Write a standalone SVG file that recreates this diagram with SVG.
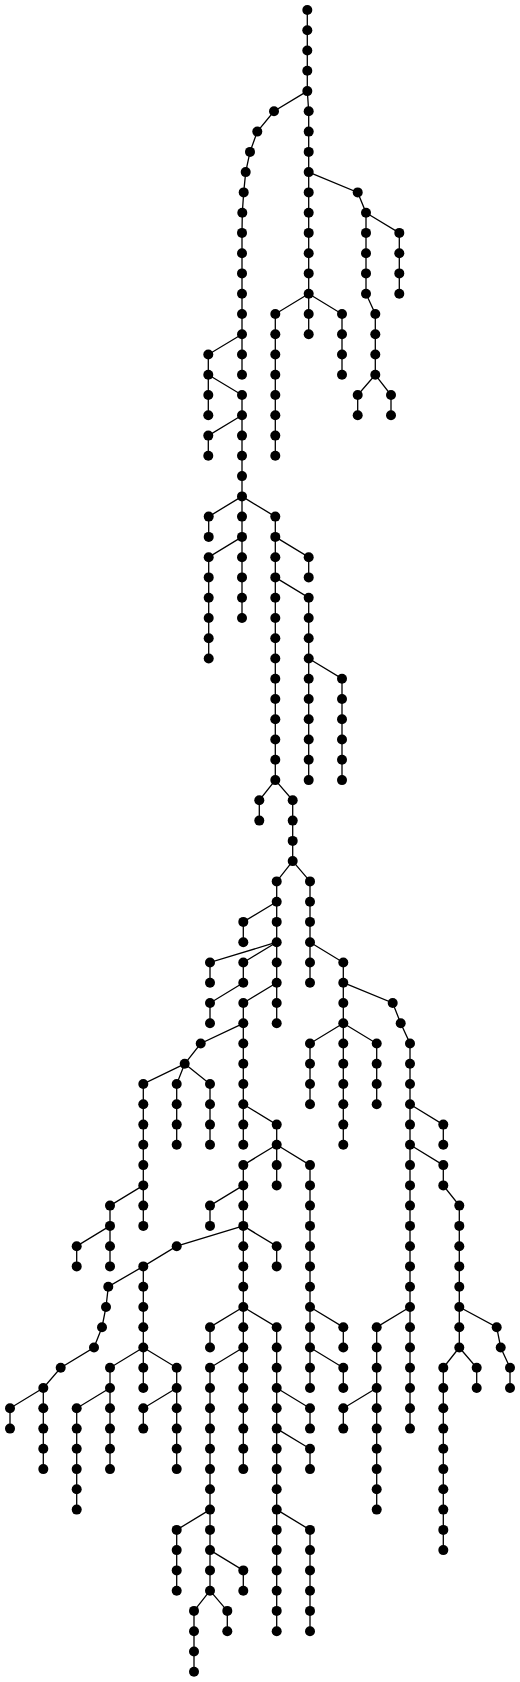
<svg xmlns="http://www.w3.org/2000/svg" width="520" height="1682" viewBox="0 0 520 1682">
<style>
.node circle{fill:#000;stroke:none}
#edges path{fill:none;stroke:#000;stroke-width:1.3}
</style>
<rect width="520" height="1682" fill="#fff"/>
<g id="edges">
<path d="M307.3 10V91.1L308.7 111.3V334.2"/>
<path d="M307.3 91.1L274 111.3L257.3 131.6L250 151.9L245.7 172.1L243.7 192.4L242.3 212.7L242 232.9V374.8"/>
<path d="M242 334.2L208.3 354.5V415.3"/>
<path d="M208.3 374.8L242 395V496.4"/>
<path d="M242 415.3L208.3 435.6V455.8"/>
<path d="M242 496.4L208.7 516.6V536.9"/>
<path d="M242 496.4V618"/>
<path d="M242 536.9L208.7 557.2V658.5"/>
<path d="M242 496.4L275.3 516.6V780.1"/>
<path d="M275.3 536.9L308.7 557.2V577.4"/>
<path d="M275.3 577.4L308.7 597.7V780.1"/>
<path d="M308.7 658.5L342 678.7V780.1"/>
<path d="M275.3 780.1L259.3 800.3V820.6"/>
<path d="M275.3 780.1L292.7 800.3V861.1"/>
<path d="M292.7 861.1L276.7 881.4V942.2"/>
<path d="M276.7 901.7L243.3 921.9V942.2"/>
<path d="M292.7 861.1L310 881.4V982.7"/>
<path d="M310 942.2L343.3 962.5V1023.3"/>
<path d="M343.3 1023.3L310 1043.5V1104.3"/>
<path d="M343.3 1023.3V1144.8"/>
<path d="M343.3 1023.3L376.7 1043.5V1104.3"/>
<path d="M343.3 982.7L392.7 1003L400.7 1023.3L410 1043.5V1428.6"/>
<path d="M410 1104.3L443.3 1124.6V1144.8"/>
<path d="M410 1144.8L443.3 1165.1V1185.4L459.3 1205.6V1347.5"/>
<path d="M459.3 1307L496.7 1327.2L500.7 1347.5L510 1367.8V1388"/>
<path d="M459.3 1347.5L476.7 1367.8V1388"/>
<path d="M459.3 1347.5L443.3 1367.8V1550.1"/>
<path d="M410 1307L376.7 1327.2V1509.6"/>
<path d="M376.7 1388L343.3 1408.3V1428.6"/>
<path d="M276.7 942.2L210 962.5V982.7"/>
<path d="M276.7 942.2L243.3 962.5V982.7"/>
<path d="M243.3 982.7L210 1003V1023.3"/>
<path d="M276.7 942.2V1023.3"/>
<path d="M276.7 982.7L243.3 1003V1144.8"/>
<path d="M243.3 1023.3L200.7 1043.5L184.7 1063.8"/>
<path d="M184.7 1063.8L143.3 1084V1225.9"/>
<path d="M184.7 1063.8L176.7 1084V1144.8"/>
<path d="M184.7 1063.8L210 1084V1144.8"/>
<path d="M143.3 1185.4L110 1205.6V1266.4"/>
<path d="M110 1225.9L76.7 1246.2V1266.4"/>
<path d="M243.3 1104.3L276.7 1124.6V1185.4"/>
<path d="M276.7 1144.8L243.3 1165.1V1469.1"/>
<path d="M276.7 1144.8L310 1165.1V1388"/>
<path d="M310 1307L343.3 1327.2V1347.5"/>
<path d="M310 1347.5L343.3 1367.8V1388"/>
<path d="M243.3 1185.4L210 1205.6V1225.9"/>
<path d="M243.3 1225.9L176.7 1246.2L143.3 1266.4V1347.5"/>
<path d="M143.3 1266.4L108.3 1286.7L106 1307L102 1327.2L94 1347.5L60.7 1367.8L43.3 1388V1469.1"/>
<path d="M43.3 1388L10 1408.3V1428.6"/>
<path d="M143.3 1347.5L110 1367.8V1469.1"/>
<path d="M110 1388L76.7 1408.3V1509.6"/>
<path d="M143.3 1347.5V1388"/>
<path d="M143.3 1347.5L176.7 1367.8V1469.1"/>
<path d="M176.7 1388L143.3 1408.3V1428.6"/>
<path d="M243.3 1225.9L276.7 1246.2V1266.4"/>
<path d="M243.3 1307L210 1327.2V1347.5"/>
<path d="M243.3 1307L276.7 1327.2V1631.2"/>
<path d="M276.7 1388L310 1408.3V1428.6"/>
<path d="M276.7 1428.6L310 1448.8V1469.1"/>
<path d="M276.7 1509.6L310 1529.9V1631.2"/>
<path d="M243.3 1347.5L210 1367.8V1590.7"/>
<path d="M210 1509.6L176.7 1529.9V1590.7"/>
<path d="M210 1550.1L243.3 1570.4V1590.7"/>
<path d="M210 1590.7L194 1610.9V1671.7"/>
<path d="M210 1590.7L227.3 1610.9V1631.2"/>
<path d="M308.7 172.1L357.7 192.4L366 212.7V293.7L375.3 314V374.8"/>
<path d="M366 212.7L399.3 232.9V293.7"/>
<path d="M375.3 374.8L357.7 395V415.3"/>
<path d="M375.3 374.8L391 395V415.3"/>
<path d="M308.7 293.7L275.3 314V455.8"/>
<path d="M308.7 293.7L342 314V374.8"/>
</g>
<g id="nodes">
<g id="n1" class="node"><circle cx="307.3" cy="10" r="5"/></g>
<g id="n2" class="node"><circle cx="307.3" cy="30.3" r="5"/></g>
<g id="n3" class="node"><circle cx="307.3" cy="50.5" r="5"/></g>
<g id="n4" class="node"><circle cx="307.3" cy="70.8" r="5"/></g>
<g id="n5" class="node"><circle cx="307.3" cy="91.1" r="5"/></g>
<g id="n6" class="node"><circle cx="308.7" cy="111.3" r="5"/></g>
<g id="n7" class="node"><circle cx="308.7" cy="131.6" r="5"/></g>
<g id="n8" class="node"><circle cx="308.7" cy="151.9" r="5"/></g>
<g id="n9" class="node"><circle cx="308.7" cy="172.1" r="5"/></g>
<g id="n10" class="node"><circle cx="308.7" cy="192.4" r="5"/></g>
<g id="n11" class="node"><circle cx="308.7" cy="212.7" r="5"/></g>
<g id="n12" class="node"><circle cx="308.7" cy="232.9" r="5"/></g>
<g id="n13" class="node"><circle cx="308.7" cy="253.2" r="5"/></g>
<g id="n14" class="node"><circle cx="308.7" cy="273.4" r="5"/></g>
<g id="n15" class="node"><circle cx="308.7" cy="293.7" r="5"/></g>
<g id="n16" class="node"><circle cx="308.7" cy="314" r="5"/></g>
<g id="n17" class="node"><circle cx="308.7" cy="334.2" r="5"/></g>
<g id="n18" class="node"><circle cx="274" cy="111.3" r="5"/></g>
<g id="n19" class="node"><circle cx="257.3" cy="131.6" r="5"/></g>
<g id="n20" class="node"><circle cx="250" cy="151.9" r="5"/></g>
<g id="n21" class="node"><circle cx="245.7" cy="172.1" r="5"/></g>
<g id="n22" class="node"><circle cx="243.7" cy="192.4" r="5"/></g>
<g id="n23" class="node"><circle cx="242.3" cy="212.7" r="5"/></g>
<g id="n24" class="node"><circle cx="242" cy="232.9" r="5"/></g>
<g id="n25" class="node"><circle cx="242" cy="253.2" r="5"/></g>
<g id="n26" class="node"><circle cx="242" cy="273.4" r="5"/></g>
<g id="n27" class="node"><circle cx="242" cy="293.7" r="5"/></g>
<g id="n28" class="node"><circle cx="242" cy="314" r="5"/></g>
<g id="n29" class="node"><circle cx="242" cy="334.2" r="5"/></g>
<g id="n30" class="node"><circle cx="242" cy="354.5" r="5"/></g>
<g id="n31" class="node"><circle cx="242" cy="374.8" r="5"/></g>
<g id="n32" class="node"><circle cx="208.3" cy="354.5" r="5"/></g>
<g id="n33" class="node"><circle cx="208.3" cy="374.8" r="5"/></g>
<g id="n34" class="node"><circle cx="208.3" cy="395" r="5"/></g>
<g id="n35" class="node"><circle cx="208.3" cy="415.3" r="5"/></g>
<g id="n36" class="node"><circle cx="242" cy="395" r="5"/></g>
<g id="n37" class="node"><circle cx="242" cy="415.3" r="5"/></g>
<g id="n38" class="node"><circle cx="242" cy="435.6" r="5"/></g>
<g id="n39" class="node"><circle cx="242" cy="455.8" r="5"/></g>
<g id="n40" class="node"><circle cx="242" cy="476.1" r="5"/></g>
<g id="n41" class="node"><circle cx="242" cy="496.4" r="5"/></g>
<g id="n42" class="node"><circle cx="208.3" cy="435.6" r="5"/></g>
<g id="n43" class="node"><circle cx="208.3" cy="455.8" r="5"/></g>
<g id="n44" class="node"><circle cx="208.7" cy="516.6" r="5"/></g>
<g id="n45" class="node"><circle cx="208.7" cy="536.9" r="5"/></g>
<g id="n46" class="node"><circle cx="242" cy="516.6" r="5"/></g>
<g id="n47" class="node"><circle cx="242" cy="536.9" r="5"/></g>
<g id="n48" class="node"><circle cx="242" cy="557.2" r="5"/></g>
<g id="n49" class="node"><circle cx="242" cy="577.4" r="5"/></g>
<g id="n50" class="node"><circle cx="242" cy="597.7" r="5"/></g>
<g id="n51" class="node"><circle cx="242" cy="618" r="5"/></g>
<g id="n52" class="node"><circle cx="208.7" cy="557.2" r="5"/></g>
<g id="n53" class="node"><circle cx="208.7" cy="577.4" r="5"/></g>
<g id="n54" class="node"><circle cx="208.7" cy="597.7" r="5"/></g>
<g id="n55" class="node"><circle cx="208.7" cy="618" r="5"/></g>
<g id="n56" class="node"><circle cx="208.7" cy="638.2" r="5"/></g>
<g id="n57" class="node"><circle cx="208.7" cy="658.5" r="5"/></g>
<g id="n58" class="node"><circle cx="275.3" cy="516.6" r="5"/></g>
<g id="n59" class="node"><circle cx="275.3" cy="536.9" r="5"/></g>
<g id="n60" class="node"><circle cx="275.3" cy="557.2" r="5"/></g>
<g id="n61" class="node"><circle cx="275.3" cy="577.4" r="5"/></g>
<g id="n62" class="node"><circle cx="275.3" cy="597.7" r="5"/></g>
<g id="n63" class="node"><circle cx="275.3" cy="618" r="5"/></g>
<g id="n64" class="node"><circle cx="275.3" cy="638.2" r="5"/></g>
<g id="n65" class="node"><circle cx="275.3" cy="658.5" r="5"/></g>
<g id="n66" class="node"><circle cx="275.3" cy="678.7" r="5"/></g>
<g id="n67" class="node"><circle cx="275.3" cy="699" r="5"/></g>
<g id="n68" class="node"><circle cx="275.3" cy="719.3" r="5"/></g>
<g id="n69" class="node"><circle cx="275.3" cy="739.5" r="5"/></g>
<g id="n70" class="node"><circle cx="275.3" cy="759.8" r="5"/></g>
<g id="n71" class="node"><circle cx="275.3" cy="780.1" r="5"/></g>
<g id="n72" class="node"><circle cx="308.7" cy="557.2" r="5"/></g>
<g id="n73" class="node"><circle cx="308.7" cy="577.4" r="5"/></g>
<g id="n74" class="node"><circle cx="308.7" cy="597.7" r="5"/></g>
<g id="n75" class="node"><circle cx="308.7" cy="618" r="5"/></g>
<g id="n76" class="node"><circle cx="308.7" cy="638.2" r="5"/></g>
<g id="n77" class="node"><circle cx="308.7" cy="658.5" r="5"/></g>
<g id="n78" class="node"><circle cx="308.7" cy="678.7" r="5"/></g>
<g id="n79" class="node"><circle cx="308.7" cy="699" r="5"/></g>
<g id="n80" class="node"><circle cx="308.7" cy="719.3" r="5"/></g>
<g id="n81" class="node"><circle cx="308.7" cy="739.5" r="5"/></g>
<g id="n82" class="node"><circle cx="308.7" cy="759.8" r="5"/></g>
<g id="n83" class="node"><circle cx="308.7" cy="780.1" r="5"/></g>
<g id="n84" class="node"><circle cx="342" cy="678.7" r="5"/></g>
<g id="n85" class="node"><circle cx="342" cy="699" r="5"/></g>
<g id="n86" class="node"><circle cx="342" cy="719.3" r="5"/></g>
<g id="n87" class="node"><circle cx="342" cy="739.5" r="5"/></g>
<g id="n88" class="node"><circle cx="342" cy="759.8" r="5"/></g>
<g id="n89" class="node"><circle cx="342" cy="780.1" r="5"/></g>
<g id="n90" class="node"><circle cx="259.3" cy="800.3" r="5"/></g>
<g id="n91" class="node"><circle cx="259.3" cy="820.6" r="5"/></g>
<g id="n92" class="node"><circle cx="292.7" cy="800.3" r="5"/></g>
<g id="n93" class="node"><circle cx="292.7" cy="820.6" r="5"/></g>
<g id="n94" class="node"><circle cx="292.7" cy="840.9" r="5"/></g>
<g id="n95" class="node"><circle cx="292.7" cy="861.1" r="5"/></g>
<g id="n96" class="node"><circle cx="276.7" cy="881.4" r="5"/></g>
<g id="n97" class="node"><circle cx="276.7" cy="901.7" r="5"/></g>
<g id="n98" class="node"><circle cx="276.7" cy="921.9" r="5"/></g>
<g id="n99" class="node"><circle cx="276.7" cy="942.2" r="5"/></g>
<g id="n100" class="node"><circle cx="243.3" cy="921.9" r="5"/></g>
<g id="n101" class="node"><circle cx="243.3" cy="942.2" r="5"/></g>
<g id="n102" class="node"><circle cx="310" cy="881.4" r="5"/></g>
<g id="n103" class="node"><circle cx="310" cy="901.7" r="5"/></g>
<g id="n104" class="node"><circle cx="310" cy="921.9" r="5"/></g>
<g id="n105" class="node"><circle cx="310" cy="942.2" r="5"/></g>
<g id="n106" class="node"><circle cx="310" cy="962.5" r="5"/></g>
<g id="n107" class="node"><circle cx="310" cy="982.7" r="5"/></g>
<g id="n108" class="node"><circle cx="343.3" cy="962.5" r="5"/></g>
<g id="n109" class="node"><circle cx="343.3" cy="982.7" r="5"/></g>
<g id="n110" class="node"><circle cx="343.3" cy="1003" r="5"/></g>
<g id="n111" class="node"><circle cx="343.3" cy="1023.3" r="5"/></g>
<g id="n112" class="node"><circle cx="310" cy="1043.5" r="5"/></g>
<g id="n113" class="node"><circle cx="310" cy="1063.8" r="5"/></g>
<g id="n114" class="node"><circle cx="310" cy="1084" r="5"/></g>
<g id="n115" class="node"><circle cx="310" cy="1104.3" r="5"/></g>
<g id="n116" class="node"><circle cx="343.3" cy="1043.5" r="5"/></g>
<g id="n117" class="node"><circle cx="343.3" cy="1063.8" r="5"/></g>
<g id="n118" class="node"><circle cx="343.3" cy="1084" r="5"/></g>
<g id="n119" class="node"><circle cx="343.3" cy="1104.3" r="5"/></g>
<g id="n120" class="node"><circle cx="343.3" cy="1124.6" r="5"/></g>
<g id="n121" class="node"><circle cx="343.3" cy="1144.8" r="5"/></g>
<g id="n122" class="node"><circle cx="376.7" cy="1043.5" r="5"/></g>
<g id="n123" class="node"><circle cx="376.7" cy="1063.8" r="5"/></g>
<g id="n124" class="node"><circle cx="376.7" cy="1084" r="5"/></g>
<g id="n125" class="node"><circle cx="376.7" cy="1104.3" r="5"/></g>
<g id="n126" class="node"><circle cx="392.7" cy="1003" r="5"/></g>
<g id="n127" class="node"><circle cx="400.7" cy="1023.3" r="5"/></g>
<g id="n128" class="node"><circle cx="410" cy="1043.5" r="5"/></g>
<g id="n129" class="node"><circle cx="410" cy="1063.8" r="5"/></g>
<g id="n130" class="node"><circle cx="410" cy="1084" r="5"/></g>
<g id="n131" class="node"><circle cx="410" cy="1104.3" r="5"/></g>
<g id="n132" class="node"><circle cx="410" cy="1124.6" r="5"/></g>
<g id="n133" class="node"><circle cx="410" cy="1144.8" r="5"/></g>
<g id="n134" class="node"><circle cx="410" cy="1165.1" r="5"/></g>
<g id="n135" class="node"><circle cx="410" cy="1185.4" r="5"/></g>
<g id="n136" class="node"><circle cx="410" cy="1205.6" r="5"/></g>
<g id="n137" class="node"><circle cx="410" cy="1225.9" r="5"/></g>
<g id="n138" class="node"><circle cx="410" cy="1246.2" r="5"/></g>
<g id="n139" class="node"><circle cx="410" cy="1266.4" r="5"/></g>
<g id="n140" class="node"><circle cx="410" cy="1286.7" r="5"/></g>
<g id="n141" class="node"><circle cx="410" cy="1307" r="5"/></g>
<g id="n142" class="node"><circle cx="410" cy="1327.2" r="5"/></g>
<g id="n143" class="node"><circle cx="410" cy="1347.5" r="5"/></g>
<g id="n144" class="node"><circle cx="410" cy="1367.8" r="5"/></g>
<g id="n145" class="node"><circle cx="410" cy="1388" r="5"/></g>
<g id="n146" class="node"><circle cx="410" cy="1408.3" r="5"/></g>
<g id="n147" class="node"><circle cx="410" cy="1428.6" r="5"/></g>
<g id="n148" class="node"><circle cx="443.3" cy="1124.6" r="5"/></g>
<g id="n149" class="node"><circle cx="443.3" cy="1144.8" r="5"/></g>
<g id="n150" class="node"><circle cx="443.3" cy="1165.1" r="5"/></g>
<g id="n151" class="node"><circle cx="443.3" cy="1185.4" r="5"/></g>
<g id="n152" class="node"><circle cx="459.3" cy="1205.6" r="5"/></g>
<g id="n153" class="node"><circle cx="459.3" cy="1225.9" r="5"/></g>
<g id="n154" class="node"><circle cx="459.3" cy="1246.2" r="5"/></g>
<g id="n155" class="node"><circle cx="459.3" cy="1266.4" r="5"/></g>
<g id="n156" class="node"><circle cx="459.3" cy="1286.7" r="5"/></g>
<g id="n157" class="node"><circle cx="459.3" cy="1307" r="5"/></g>
<g id="n158" class="node"><circle cx="459.3" cy="1327.2" r="5"/></g>
<g id="n159" class="node"><circle cx="459.3" cy="1347.5" r="5"/></g>
<g id="n160" class="node"><circle cx="496.7" cy="1327.2" r="5"/></g>
<g id="n161" class="node"><circle cx="500.7" cy="1347.5" r="5"/></g>
<g id="n162" class="node"><circle cx="510" cy="1367.8" r="5"/></g>
<g id="n163" class="node"><circle cx="510" cy="1388" r="5"/></g>
<g id="n164" class="node"><circle cx="476.7" cy="1367.8" r="5"/></g>
<g id="n165" class="node"><circle cx="476.7" cy="1388" r="5"/></g>
<g id="n166" class="node"><circle cx="443.3" cy="1367.8" r="5"/></g>
<g id="n167" class="node"><circle cx="443.3" cy="1388" r="5"/></g>
<g id="n168" class="node"><circle cx="443.3" cy="1408.3" r="5"/></g>
<g id="n169" class="node"><circle cx="443.3" cy="1428.6" r="5"/></g>
<g id="n170" class="node"><circle cx="443.3" cy="1448.8" r="5"/></g>
<g id="n171" class="node"><circle cx="443.3" cy="1469.1" r="5"/></g>
<g id="n172" class="node"><circle cx="443.3" cy="1489.3" r="5"/></g>
<g id="n173" class="node"><circle cx="443.3" cy="1509.6" r="5"/></g>
<g id="n174" class="node"><circle cx="443.3" cy="1529.9" r="5"/></g>
<g id="n175" class="node"><circle cx="443.3" cy="1550.1" r="5"/></g>
<g id="n176" class="node"><circle cx="376.7" cy="1327.2" r="5"/></g>
<g id="n177" class="node"><circle cx="376.7" cy="1347.5" r="5"/></g>
<g id="n178" class="node"><circle cx="376.7" cy="1367.8" r="5"/></g>
<g id="n179" class="node"><circle cx="376.7" cy="1388" r="5"/></g>
<g id="n180" class="node"><circle cx="376.7" cy="1408.3" r="5"/></g>
<g id="n181" class="node"><circle cx="376.7" cy="1428.6" r="5"/></g>
<g id="n182" class="node"><circle cx="376.7" cy="1448.8" r="5"/></g>
<g id="n183" class="node"><circle cx="376.7" cy="1469.1" r="5"/></g>
<g id="n184" class="node"><circle cx="376.7" cy="1489.3" r="5"/></g>
<g id="n185" class="node"><circle cx="376.7" cy="1509.6" r="5"/></g>
<g id="n186" class="node"><circle cx="343.3" cy="1408.3" r="5"/></g>
<g id="n187" class="node"><circle cx="343.3" cy="1428.6" r="5"/></g>
<g id="n188" class="node"><circle cx="210" cy="962.5" r="5"/></g>
<g id="n189" class="node"><circle cx="210" cy="982.7" r="5"/></g>
<g id="n190" class="node"><circle cx="243.3" cy="962.5" r="5"/></g>
<g id="n191" class="node"><circle cx="243.3" cy="982.7" r="5"/></g>
<g id="n192" class="node"><circle cx="210" cy="1003" r="5"/></g>
<g id="n193" class="node"><circle cx="210" cy="1023.3" r="5"/></g>
<g id="n194" class="node"><circle cx="276.7" cy="962.5" r="5"/></g>
<g id="n195" class="node"><circle cx="276.7" cy="982.7" r="5"/></g>
<g id="n196" class="node"><circle cx="276.7" cy="1003" r="5"/></g>
<g id="n197" class="node"><circle cx="276.7" cy="1023.3" r="5"/></g>
<g id="n198" class="node"><circle cx="243.3" cy="1003" r="5"/></g>
<g id="n199" class="node"><circle cx="243.3" cy="1023.3" r="5"/></g>
<g id="n200" class="node"><circle cx="243.3" cy="1043.5" r="5"/></g>
<g id="n201" class="node"><circle cx="243.3" cy="1063.8" r="5"/></g>
<g id="n202" class="node"><circle cx="243.3" cy="1084" r="5"/></g>
<g id="n203" class="node"><circle cx="243.3" cy="1104.3" r="5"/></g>
<g id="n204" class="node"><circle cx="243.3" cy="1124.6" r="5"/></g>
<g id="n205" class="node"><circle cx="243.3" cy="1144.8" r="5"/></g>
<g id="n206" class="node"><circle cx="200.7" cy="1043.5" r="5"/></g>
<g id="n207" class="node"><circle cx="184.7" cy="1063.8" r="5"/></g>
<g id="n208" class="node"><circle cx="143.3" cy="1084" r="5"/></g>
<g id="n209" class="node"><circle cx="143.3" cy="1104.3" r="5"/></g>
<g id="n210" class="node"><circle cx="143.3" cy="1124.6" r="5"/></g>
<g id="n211" class="node"><circle cx="143.3" cy="1144.8" r="5"/></g>
<g id="n212" class="node"><circle cx="143.3" cy="1165.1" r="5"/></g>
<g id="n213" class="node"><circle cx="143.3" cy="1185.4" r="5"/></g>
<g id="n214" class="node"><circle cx="143.3" cy="1205.6" r="5"/></g>
<g id="n215" class="node"><circle cx="143.3" cy="1225.9" r="5"/></g>
<g id="n216" class="node"><circle cx="176.7" cy="1084" r="5"/></g>
<g id="n217" class="node"><circle cx="176.7" cy="1104.3" r="5"/></g>
<g id="n218" class="node"><circle cx="176.7" cy="1124.6" r="5"/></g>
<g id="n219" class="node"><circle cx="176.7" cy="1144.8" r="5"/></g>
<g id="n220" class="node"><circle cx="210" cy="1084" r="5"/></g>
<g id="n221" class="node"><circle cx="210" cy="1104.3" r="5"/></g>
<g id="n222" class="node"><circle cx="210" cy="1124.6" r="5"/></g>
<g id="n223" class="node"><circle cx="210" cy="1144.8" r="5"/></g>
<g id="n224" class="node"><circle cx="110" cy="1205.6" r="5"/></g>
<g id="n225" class="node"><circle cx="110" cy="1225.9" r="5"/></g>
<g id="n226" class="node"><circle cx="110" cy="1246.2" r="5"/></g>
<g id="n227" class="node"><circle cx="110" cy="1266.4" r="5"/></g>
<g id="n228" class="node"><circle cx="76.7" cy="1246.2" r="5"/></g>
<g id="n229" class="node"><circle cx="76.7" cy="1266.4" r="5"/></g>
<g id="n230" class="node"><circle cx="276.7" cy="1124.6" r="5"/></g>
<g id="n231" class="node"><circle cx="276.7" cy="1144.8" r="5"/></g>
<g id="n232" class="node"><circle cx="243.3" cy="1165.1" r="5"/></g>
<g id="n233" class="node"><circle cx="243.3" cy="1185.4" r="5"/></g>
<g id="n234" class="node"><circle cx="243.3" cy="1205.6" r="5"/></g>
<g id="n235" class="node"><circle cx="243.3" cy="1225.9" r="5"/></g>
<g id="n236" class="node"><circle cx="243.3" cy="1246.2" r="5"/></g>
<g id="n237" class="node"><circle cx="243.3" cy="1266.4" r="5"/></g>
<g id="n238" class="node"><circle cx="243.3" cy="1286.7" r="5"/></g>
<g id="n239" class="node"><circle cx="243.3" cy="1307" r="5"/></g>
<g id="n240" class="node"><circle cx="243.3" cy="1327.2" r="5"/></g>
<g id="n241" class="node"><circle cx="243.3" cy="1347.5" r="5"/></g>
<g id="n242" class="node"><circle cx="243.3" cy="1367.8" r="5"/></g>
<g id="n243" class="node"><circle cx="243.3" cy="1388" r="5"/></g>
<g id="n244" class="node"><circle cx="243.3" cy="1408.3" r="5"/></g>
<g id="n245" class="node"><circle cx="243.3" cy="1428.6" r="5"/></g>
<g id="n246" class="node"><circle cx="243.3" cy="1448.8" r="5"/></g>
<g id="n247" class="node"><circle cx="243.3" cy="1469.1" r="5"/></g>
<g id="n248" class="node"><circle cx="276.7" cy="1165.1" r="5"/></g>
<g id="n249" class="node"><circle cx="276.7" cy="1185.4" r="5"/></g>
<g id="n250" class="node"><circle cx="310" cy="1165.1" r="5"/></g>
<g id="n251" class="node"><circle cx="310" cy="1185.4" r="5"/></g>
<g id="n252" class="node"><circle cx="310" cy="1205.6" r="5"/></g>
<g id="n253" class="node"><circle cx="310" cy="1225.9" r="5"/></g>
<g id="n254" class="node"><circle cx="310" cy="1246.2" r="5"/></g>
<g id="n255" class="node"><circle cx="310" cy="1266.4" r="5"/></g>
<g id="n256" class="node"><circle cx="310" cy="1286.7" r="5"/></g>
<g id="n257" class="node"><circle cx="310" cy="1307" r="5"/></g>
<g id="n258" class="node"><circle cx="310" cy="1327.2" r="5"/></g>
<g id="n259" class="node"><circle cx="310" cy="1347.5" r="5"/></g>
<g id="n260" class="node"><circle cx="310" cy="1367.8" r="5"/></g>
<g id="n261" class="node"><circle cx="310" cy="1388" r="5"/></g>
<g id="n262" class="node"><circle cx="343.3" cy="1327.2" r="5"/></g>
<g id="n263" class="node"><circle cx="343.3" cy="1347.5" r="5"/></g>
<g id="n264" class="node"><circle cx="343.3" cy="1367.8" r="5"/></g>
<g id="n265" class="node"><circle cx="343.3" cy="1388" r="5"/></g>
<g id="n266" class="node"><circle cx="210" cy="1205.6" r="5"/></g>
<g id="n267" class="node"><circle cx="210" cy="1225.9" r="5"/></g>
<g id="n268" class="node"><circle cx="176.7" cy="1246.2" r="5"/></g>
<g id="n269" class="node"><circle cx="143.3" cy="1266.4" r="5"/></g>
<g id="n270" class="node"><circle cx="143.3" cy="1286.7" r="5"/></g>
<g id="n271" class="node"><circle cx="143.3" cy="1307" r="5"/></g>
<g id="n272" class="node"><circle cx="143.3" cy="1327.2" r="5"/></g>
<g id="n273" class="node"><circle cx="143.3" cy="1347.5" r="5"/></g>
<g id="n274" class="node"><circle cx="108.3" cy="1286.7" r="5"/></g>
<g id="n275" class="node"><circle cx="106" cy="1307" r="5"/></g>
<g id="n276" class="node"><circle cx="102" cy="1327.2" r="5"/></g>
<g id="n277" class="node"><circle cx="94" cy="1347.5" r="5"/></g>
<g id="n278" class="node"><circle cx="60.7" cy="1367.8" r="5"/></g>
<g id="n279" class="node"><circle cx="43.3" cy="1388" r="5"/></g>
<g id="n280" class="node"><circle cx="43.3" cy="1408.3" r="5"/></g>
<g id="n281" class="node"><circle cx="43.3" cy="1428.6" r="5"/></g>
<g id="n282" class="node"><circle cx="43.3" cy="1448.8" r="5"/></g>
<g id="n283" class="node"><circle cx="43.3" cy="1469.1" r="5"/></g>
<g id="n284" class="node"><circle cx="10" cy="1408.3" r="5"/></g>
<g id="n285" class="node"><circle cx="10" cy="1428.6" r="5"/></g>
<g id="n286" class="node"><circle cx="110" cy="1367.8" r="5"/></g>
<g id="n287" class="node"><circle cx="110" cy="1388" r="5"/></g>
<g id="n288" class="node"><circle cx="110" cy="1408.3" r="5"/></g>
<g id="n289" class="node"><circle cx="110" cy="1428.6" r="5"/></g>
<g id="n290" class="node"><circle cx="110" cy="1448.8" r="5"/></g>
<g id="n291" class="node"><circle cx="110" cy="1469.1" r="5"/></g>
<g id="n292" class="node"><circle cx="76.7" cy="1408.3" r="5"/></g>
<g id="n293" class="node"><circle cx="76.7" cy="1428.6" r="5"/></g>
<g id="n294" class="node"><circle cx="76.7" cy="1448.8" r="5"/></g>
<g id="n295" class="node"><circle cx="76.7" cy="1469.1" r="5"/></g>
<g id="n296" class="node"><circle cx="76.7" cy="1489.3" r="5"/></g>
<g id="n297" class="node"><circle cx="76.7" cy="1509.6" r="5"/></g>
<g id="n298" class="node"><circle cx="143.3" cy="1367.8" r="5"/></g>
<g id="n299" class="node"><circle cx="143.3" cy="1388" r="5"/></g>
<g id="n300" class="node"><circle cx="176.7" cy="1367.8" r="5"/></g>
<g id="n301" class="node"><circle cx="176.7" cy="1388" r="5"/></g>
<g id="n302" class="node"><circle cx="176.7" cy="1408.3" r="5"/></g>
<g id="n303" class="node"><circle cx="176.7" cy="1428.6" r="5"/></g>
<g id="n304" class="node"><circle cx="176.7" cy="1448.8" r="5"/></g>
<g id="n305" class="node"><circle cx="176.7" cy="1469.1" r="5"/></g>
<g id="n306" class="node"><circle cx="143.3" cy="1408.3" r="5"/></g>
<g id="n307" class="node"><circle cx="143.3" cy="1428.6" r="5"/></g>
<g id="n308" class="node"><circle cx="276.7" cy="1246.2" r="5"/></g>
<g id="n309" class="node"><circle cx="276.7" cy="1266.4" r="5"/></g>
<g id="n310" class="node"><circle cx="210" cy="1327.2" r="5"/></g>
<g id="n311" class="node"><circle cx="210" cy="1347.5" r="5"/></g>
<g id="n312" class="node"><circle cx="276.7" cy="1327.2" r="5"/></g>
<g id="n313" class="node"><circle cx="276.7" cy="1347.5" r="5"/></g>
<g id="n314" class="node"><circle cx="276.7" cy="1367.8" r="5"/></g>
<g id="n315" class="node"><circle cx="276.7" cy="1388" r="5"/></g>
<g id="n316" class="node"><circle cx="276.7" cy="1408.3" r="5"/></g>
<g id="n317" class="node"><circle cx="276.7" cy="1428.6" r="5"/></g>
<g id="n318" class="node"><circle cx="276.7" cy="1448.8" r="5"/></g>
<g id="n319" class="node"><circle cx="276.7" cy="1469.1" r="5"/></g>
<g id="n320" class="node"><circle cx="276.7" cy="1489.3" r="5"/></g>
<g id="n321" class="node"><circle cx="276.7" cy="1509.6" r="5"/></g>
<g id="n322" class="node"><circle cx="276.7" cy="1529.9" r="5"/></g>
<g id="n323" class="node"><circle cx="276.7" cy="1550.1" r="5"/></g>
<g id="n324" class="node"><circle cx="276.7" cy="1570.4" r="5"/></g>
<g id="n325" class="node"><circle cx="276.7" cy="1590.7" r="5"/></g>
<g id="n326" class="node"><circle cx="276.7" cy="1610.9" r="5"/></g>
<g id="n327" class="node"><circle cx="276.7" cy="1631.2" r="5"/></g>
<g id="n328" class="node"><circle cx="310" cy="1408.3" r="5"/></g>
<g id="n329" class="node"><circle cx="310" cy="1428.6" r="5"/></g>
<g id="n330" class="node"><circle cx="310" cy="1448.8" r="5"/></g>
<g id="n331" class="node"><circle cx="310" cy="1469.1" r="5"/></g>
<g id="n332" class="node"><circle cx="310" cy="1529.9" r="5"/></g>
<g id="n333" class="node"><circle cx="310" cy="1550.1" r="5"/></g>
<g id="n334" class="node"><circle cx="310" cy="1570.4" r="5"/></g>
<g id="n335" class="node"><circle cx="310" cy="1590.7" r="5"/></g>
<g id="n336" class="node"><circle cx="310" cy="1610.9" r="5"/></g>
<g id="n337" class="node"><circle cx="310" cy="1631.2" r="5"/></g>
<g id="n338" class="node"><circle cx="210" cy="1367.8" r="5"/></g>
<g id="n339" class="node"><circle cx="210" cy="1388" r="5"/></g>
<g id="n340" class="node"><circle cx="210" cy="1408.3" r="5"/></g>
<g id="n341" class="node"><circle cx="210" cy="1428.6" r="5"/></g>
<g id="n342" class="node"><circle cx="210" cy="1448.8" r="5"/></g>
<g id="n343" class="node"><circle cx="210" cy="1469.1" r="5"/></g>
<g id="n344" class="node"><circle cx="210" cy="1489.3" r="5"/></g>
<g id="n345" class="node"><circle cx="210" cy="1509.6" r="5"/></g>
<g id="n346" class="node"><circle cx="210" cy="1529.9" r="5"/></g>
<g id="n347" class="node"><circle cx="210" cy="1550.1" r="5"/></g>
<g id="n348" class="node"><circle cx="210" cy="1570.4" r="5"/></g>
<g id="n349" class="node"><circle cx="210" cy="1590.7" r="5"/></g>
<g id="n350" class="node"><circle cx="176.7" cy="1529.9" r="5"/></g>
<g id="n351" class="node"><circle cx="176.7" cy="1550.1" r="5"/></g>
<g id="n352" class="node"><circle cx="176.7" cy="1570.4" r="5"/></g>
<g id="n353" class="node"><circle cx="176.7" cy="1590.7" r="5"/></g>
<g id="n354" class="node"><circle cx="243.3" cy="1570.4" r="5"/></g>
<g id="n355" class="node"><circle cx="243.3" cy="1590.7" r="5"/></g>
<g id="n356" class="node"><circle cx="194" cy="1610.9" r="5"/></g>
<g id="n357" class="node"><circle cx="194" cy="1631.2" r="5"/></g>
<g id="n358" class="node"><circle cx="194" cy="1651.5" r="5"/></g>
<g id="n359" class="node"><circle cx="194" cy="1671.7" r="5"/></g>
<g id="n360" class="node"><circle cx="227.3" cy="1610.9" r="5"/></g>
<g id="n361" class="node"><circle cx="227.3" cy="1631.2" r="5"/></g>
<g id="n362" class="node"><circle cx="357.7" cy="192.4" r="5"/></g>
<g id="n363" class="node"><circle cx="366" cy="212.7" r="5"/></g>
<g id="n364" class="node"><circle cx="366" cy="232.9" r="5"/></g>
<g id="n365" class="node"><circle cx="366" cy="253.2" r="5"/></g>
<g id="n366" class="node"><circle cx="366" cy="273.4" r="5"/></g>
<g id="n367" class="node"><circle cx="366" cy="293.7" r="5"/></g>
<g id="n368" class="node"><circle cx="375.3" cy="314" r="5"/></g>
<g id="n369" class="node"><circle cx="375.3" cy="334.2" r="5"/></g>
<g id="n370" class="node"><circle cx="375.3" cy="354.5" r="5"/></g>
<g id="n371" class="node"><circle cx="375.3" cy="374.8" r="5"/></g>
<g id="n372" class="node"><circle cx="399.3" cy="232.9" r="5"/></g>
<g id="n373" class="node"><circle cx="399.3" cy="253.2" r="5"/></g>
<g id="n374" class="node"><circle cx="399.3" cy="273.4" r="5"/></g>
<g id="n375" class="node"><circle cx="399.3" cy="293.7" r="5"/></g>
<g id="n376" class="node"><circle cx="357.7" cy="395" r="5"/></g>
<g id="n377" class="node"><circle cx="357.7" cy="415.3" r="5"/></g>
<g id="n378" class="node"><circle cx="391" cy="395" r="5"/></g>
<g id="n379" class="node"><circle cx="391" cy="415.3" r="5"/></g>
<g id="n380" class="node"><circle cx="275.3" cy="314" r="5"/></g>
<g id="n381" class="node"><circle cx="275.3" cy="334.2" r="5"/></g>
<g id="n382" class="node"><circle cx="275.3" cy="354.5" r="5"/></g>
<g id="n383" class="node"><circle cx="275.3" cy="374.8" r="5"/></g>
<g id="n384" class="node"><circle cx="275.3" cy="395" r="5"/></g>
<g id="n385" class="node"><circle cx="275.3" cy="415.3" r="5"/></g>
<g id="n386" class="node"><circle cx="275.3" cy="435.6" r="5"/></g>
<g id="n387" class="node"><circle cx="275.3" cy="455.8" r="5"/></g>
<g id="n388" class="node"><circle cx="342" cy="314" r="5"/></g>
<g id="n389" class="node"><circle cx="342" cy="334.2" r="5"/></g>
<g id="n390" class="node"><circle cx="342" cy="354.5" r="5"/></g>
<g id="n391" class="node"><circle cx="342" cy="374.8" r="5"/></g>
</g>
</svg>
